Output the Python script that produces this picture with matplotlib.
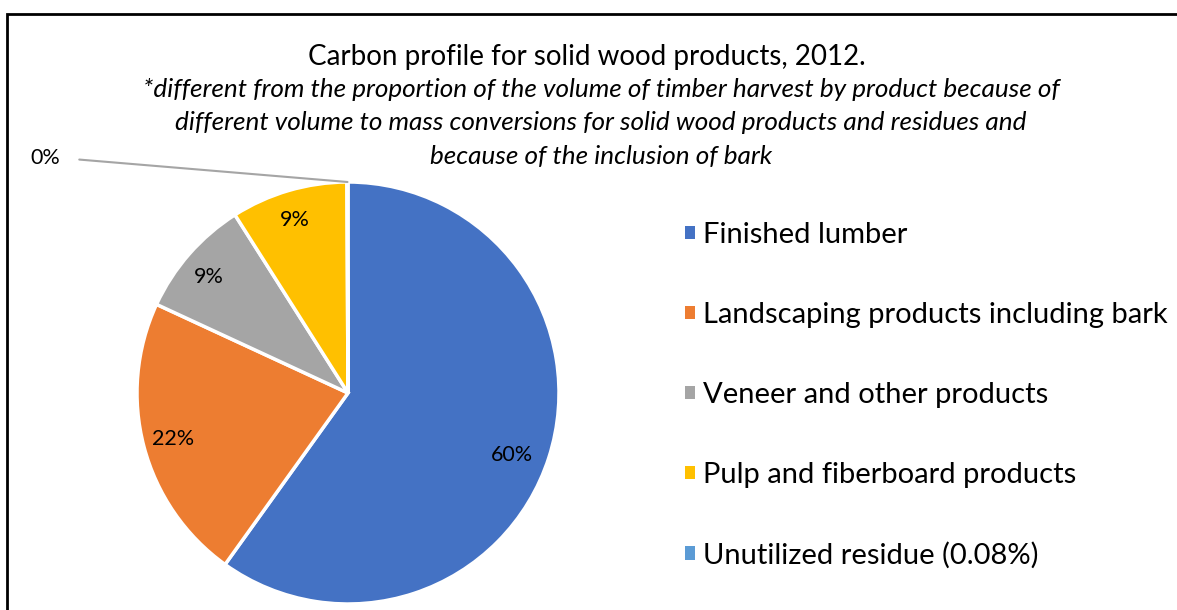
import matplotlib.pyplot as plt
from matplotlib.patches import Rectangle, Patch
import numpy as np

categories = ['Finished lumber', 'Landscaping products including bark',
              'Veneer and other products', 'Pulp and fiberboard products',
              'Unutilized residue (0.08%)']
shares = [59.9, 22.0, 9.1, 8.92, 0.08]
colors = ['#4472C4', '#ED7D31', '#A5A5A5', '#FFC000', '#5B9BD5']

title = 'Carbon profile for solid wood products, 2012.'
subtitle = ('*different from the proportion of the volume of timber harvest by product because of\n'
            'different volume to mass conversions for solid wood products and residues and\n'
            'because of the inclusion of bark')

plt.rcParams['font.family'] = ['Lato', 'DejaVu Sans']

W, H = 1177, 610
fig = plt.figure(figsize=(W / 100, H / 100), dpi=100)

# frame around the chart area (cropped on the right and bottom in the original)
fig.patches.append(Rectangle((7 / W, -0.1), 1.2, 1 - 14 / H + 0.1, transform=fig.transFigure,
                             fill=False, edgecolor='black', linewidth=2))

cx, cy, r = 348, 393, 211
ax = fig.add_axes([(cx - r) / W, (H - cy - r) / H, 2 * r / W, 2 * r / H])


def pct(p):
    return '' if p < 1 else '%.0f%%' % p


wedges, texts = ax.pie(shares, colors=colors, startangle=90, counterclock=False,
                       wedgeprops=dict(edgecolor='white', linewidth=2.5),
                       labels=[pct(100 * s / sum(shares)) for s in shares],
                       labeldistance=0.85,
                       textprops=dict(fontsize=15.5, ha='center', va='center'))
ax.set_xlim(-1, 1)
ax.set_ylim(-1, 1)

# nudge labels to where Excel put them (best fit, not exactly mid-angle)
label_pos = [(0.777, -0.294), (-0.829, -0.218), (-0.659, 0.550), (-0.251, 0.820)]
for t, p in zip(texts, label_pos):
    t.set_position(p)

# the tiny slice gets its label outside with a leader line
w = wedges[-1]
ang = np.deg2rad((w.theta1 + w.theta2) / 2)
ax.annotate('0%', xy=(np.cos(ang), np.sin(ang)), xytext=(-1.436, 1.114),
            ha='center', va='center', fontsize=15.5,
            arrowprops=dict(arrowstyle='-', color='#A5A5A5', lw=1.5,
                            relpos=(1, 0.5), shrinkA=12, shrinkB=0),
            annotation_clip=False)

fig.text(587 / W, 1 - 57 / H, title, ha='center', va='center', fontsize=20)
fig.text(601 / W, 1 - 123 / H, subtitle, ha='center', va='center', fontsize=18.8,
         style='italic', linespacing=1.53)

handles = [Patch(facecolor=c) for c in colors]
fig.legend(handles, categories, loc='upper left', bbox_to_anchor=(685 / W, 1 - 222 / H),
           frameon=False, fontsize=21, handlelength=0.35, handleheight=0.35,
           handletextpad=0.27, labelspacing=1.85, borderpad=0, borderaxespad=0)

fig.savefig('out.png', dpi=100)
